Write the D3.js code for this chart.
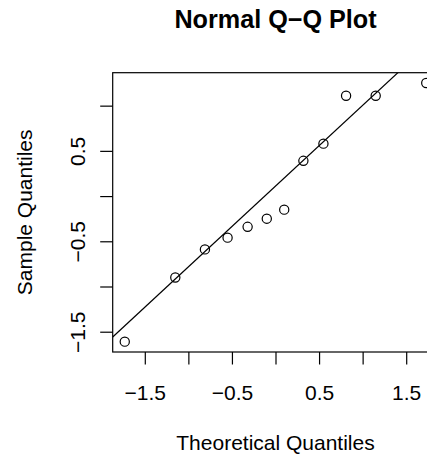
<!DOCTYPE html>
<html>
<head>
<meta charset="utf-8">
<script src="https://d3js.org/d3.v7.min.js"></script>
<style>
  body { margin: 0; background: #fff; }
  svg text { font-family: "Liberation Sans", Arial, sans-serif; fill: #000; }
</style>
</head>
<body>
<svg id="chart"></svg>
<script>
// values
var theoretical = [-1.73, -1.15, -0.81, -0.55, -0.32, -0.10, 0.10, 0.32, 0.55, 0.81, 1.15, 1.73];
var sample = [-1.61, -0.90, -0.59, -0.46, -0.34, -0.25, -0.15, 0.39, 0.58, 1.11, 1.11, 1.25];
var normalQuartiles = [-0.6745, 0.6745];
var xTicks = [-1.5, -1, -0.5, 0, 0.5, 1, 1.5];
var xLabels = [-1.5, -0.5, 0.5, 1.5];
var yTicks = [-1.5, -1, -0.5, 0, 0.5, 1];
var yLabels = [-1.5, -0.5, 0.5];

var vWidth = 427, vHeight = 455;
var plotLeft = 112.7, plotRight = 438.3, plotTop = 72.7, plotBottom = 352;
var fontSize = 21;

var svg = d3.select('#chart')
    .attr('width', vWidth)
    .attr('height', vHeight);

// R style: data range padded by 4% on each side
function padded(v) {
    var e = d3.extent(v), pad = (e[1] - e[0]) * 0.04;
    return [e[0] - pad, e[1] + pad];
}

var x = d3.scaleLinear().domain(padded(theoretical)).range([plotLeft, plotRight]);
var y = d3.scaleLinear().domain(padded(sample)).range([plotBottom, plotTop]);
var fmt = d3.format('.1f');

svg.append('defs').append('clipPath').attr('id', 'plotClip')
  .append('rect')
    .attr('x', plotLeft).attr('y', plotTop)
    .attr('width', plotRight - plotLeft).attr('height', plotBottom - plotTop);

// x axis
var gx = svg.append('g')
    .attr('transform', 'translate(0,' + plotBottom + ')')
    .call(d3.axisBottom(x).tickValues(xTicks).tickSize(12.5)
        .tickFormat(function(d) { return xLabels.indexOf(d) >= 0 ? fmt(d) : ''; }));
gx.select('.domain').remove();
gx.selectAll('line').attr('stroke', '#000').attr('stroke-width', 1.2);
gx.selectAll('text')
    .attr('y', 48).attr('dy', 0)
    .style('font-size', fontSize + 'px');

// y axis
var gy = svg.append('g')
    .attr('transform', 'translate(' + plotLeft + ',0)')
    .call(d3.axisLeft(y).tickValues(yTicks).tickSize(12.5)
        .tickFormat(function(d) { return yLabels.indexOf(d) >= 0 ? fmt(d) : ''; }));
gy.select('.domain').remove();
gy.selectAll('line').attr('stroke', '#000').attr('stroke-width', 1.2);
gy.selectAll('text')
    .attr('transform', 'rotate(-90)')
    .attr('x', 0).attr('y', -27.7).attr('dy', 0)
    .attr('text-anchor', 'middle')
    .style('font-size', fontSize + 'px');

// box
svg.append('rect')
    .attr('x', plotLeft).attr('y', plotTop)
    .attr('width', plotRight - plotLeft).attr('height', plotBottom - plotTop)
    .attr('fill', 'none').attr('stroke', '#000').attr('stroke-width', 1.2);

// qqline through the sample quartiles vs normal quartiles
var sorted = sample.slice().sort(d3.ascending);
var q1 = d3.quantile(sorted, 0.25), q3 = d3.quantile(sorted, 0.75);
var slope = (q3 - q1) / (normalQuartiles[1] - normalQuartiles[0]);
var icpt = q1 - slope * normalQuartiles[0];
var xd = x.domain();
svg.append('line')
    .attr('clip-path', 'url(#plotClip)')
    .attr('x1', x(xd[0])).attr('y1', y(icpt + slope * xd[0]))
    .attr('x2', x(xd[1])).attr('y2', y(icpt + slope * xd[1]))
    .attr('stroke', '#000').attr('stroke-width', 1.2);

// points
svg.append('g').selectAll('circle')
    .data(theoretical)
  .enter().append('circle')
    .attr('cx', function(d) { return x(d); })
    .attr('cy', function(d, i) { return y(sample[i]); })
    .attr('r', 4.6)
    .attr('fill', 'none').attr('stroke', '#000').attr('stroke-width', 1.2);

// titles
var midX = (plotLeft + plotRight) / 2;
svg.append('text')
    .attr('x', midX).attr('y', 28.3)
    .attr('text-anchor', 'middle')
    .style('font-size', (fontSize * 1.2) + 'px').style('font-weight', 'bold')
    .text('Normal Q\u2212Q Plot');

svg.append('text')
    .attr('x', midX).attr('y', 450)
    .attr('text-anchor', 'middle')
    .style('font-size', fontSize + 'px')
    .text('Theoretical Quantiles');

svg.append('text')
    .attr('transform', 'translate(31.7,' + ((plotTop + plotBottom) / 2) + ') rotate(-90)')
    .attr('text-anchor', 'middle')
    .style('font-size', fontSize + 'px')
    .text('Sample Quantiles');
</script>
</body>
</html>
